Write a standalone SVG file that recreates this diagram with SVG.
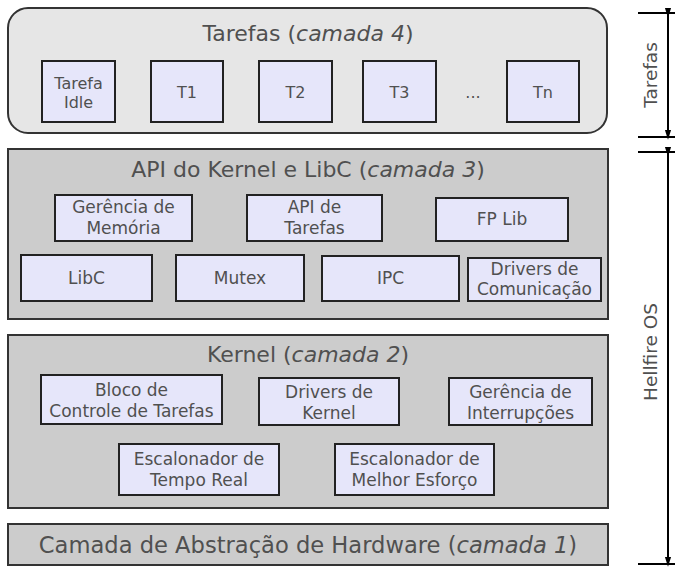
<svg xmlns="http://www.w3.org/2000/svg" width="681" height="575" viewBox="0 0 681 575">
<style>
text{font-family:"DejaVu Sans","Liberation Sans",sans-serif;fill:#505050;text-anchor:middle}
.layer{stroke:#333;stroke-width:2}
.l4{fill:#e6e6e6}
.lg{fill:#cccccc}
.box{fill:#e6e6fa;stroke:#222;stroke-width:2}
.title{font-size:22px}
.lbl{font-size:17px}
.tl{font-size:16px}
.side{font-size:18.5px}
.dim{stroke:#000;stroke-width:2;fill:none}
</style>
<defs>
<marker id="ah" markerWidth="10" markerHeight="16" refX="10" refY="5" orient="auto" markerUnits="userSpaceOnUse" viewBox="0 0 16 10">
<path d="M0,0 L16,5 L0,10 Z" fill="#000"/>
</marker>
</defs>
<g id="camada4">
<rect class="layer l4" x="8" y="8" width="599" height="125" rx="20"/>
<text class="title" x="308" y="41">Tarefas (<tspan font-style="italic">camada 4</tspan>)</text>
</g>
<g id="tarefa-idle"><rect class="box" x="42" y="61" width="73" height="61"/><text class="tl" x="78.5" y="89">Tarefa</text><text class="tl" x="78.5" y="108">Idle</text></g>
<g id="t1"><rect class="box" x="151" y="61" width="72" height="61"/><text class="tl" x="187" y="98">T1</text></g>
<g id="t2"><rect class="box" x="259" y="61" width="73" height="61"/><text class="tl" x="295.5" y="98">T2</text></g>
<g id="t3"><rect class="box" x="363" y="61" width="73" height="61"/><text class="tl" x="399.5" y="98">T3</text></g>
<text class="tl" x="473" y="98">...</text>
<g id="tn"><rect class="box" x="507" y="61" width="72" height="61"/><text class="tl" x="543" y="98">Tn</text></g>

<g id="camada3">
<rect class="layer lg" x="8" y="149" width="600" height="170"/>
<text class="title" x="308" y="177">API do Kernel e LibC (<tspan font-style="italic">camada 3</tspan>)</text>
</g>
<g id="gerencia-memoria"><rect class="box" x="55" y="195" width="137" height="46"/><text class="lbl" x="123.5" y="213">Gerência de</text><text class="lbl" x="123.5" y="234">Memória</text></g>
<g id="api-tarefas"><rect class="box" x="247" y="195" width="135" height="46"/><text class="lbl" x="314.5" y="213">API de</text><text class="lbl" x="314.5" y="234">Tarefas</text></g>
<g id="fp-lib"><rect class="box" x="436" y="198" width="132" height="43"/><text class="lbl" x="502" y="225">FP Lib</text></g>
<g id="libc"><rect class="box" x="21" y="255" width="131" height="46"/><text class="lbl" x="86.5" y="284">LibC</text></g>
<g id="mutex"><rect class="box" x="176" y="255" width="128" height="46"/><text class="lbl" x="240" y="284">Mutex</text></g>
<g id="ipc"><rect class="box" x="322" y="256" width="137" height="45"/><text class="lbl" x="390.5" y="284">IPC</text></g>
<g id="drivers-com"><rect class="box" x="468" y="258" width="133" height="43"/><text class="lbl" x="534.5" y="275">Drivers de</text><text class="lbl" x="534.5" y="295">Comunicação</text></g>

<g id="camada2">
<rect class="layer lg" x="8" y="335" width="600" height="173"/>
<text class="title" x="308" y="362">Kernel (<tspan font-style="italic">camada 2</tspan>)</text>
</g>
<g id="bloco-controle"><rect class="box" x="41" y="375" width="181" height="49"/><text class="lbl" x="131.5" y="396">Bloco de</text><text class="lbl" x="131.5" y="417">Controle de Tarefas</text></g>
<g id="drivers-kernel"><rect class="box" x="259" y="378" width="140" height="47"/><text class="lbl" x="329" y="398">Drivers de</text><text class="lbl" x="329" y="419">Kernel</text></g>
<g id="gerencia-interrupcoes"><rect class="box" x="449" y="378" width="143" height="47"/><text class="lbl" x="520.5" y="398">Gerência de</text><text class="lbl" x="520.5" y="419">Interrupções</text></g>
<g id="escalonador-tr"><rect class="box" x="119" y="444" width="160" height="51"/><text class="lbl" x="199" y="465">Escalonador de</text><text class="lbl" x="199" y="486">Tempo Real</text></g>
<g id="escalonador-me"><rect class="box" x="335" y="444" width="159" height="51"/><text class="lbl" x="414.5" y="465">Escalonador de</text><text class="lbl" x="414.5" y="486">Melhor Esforço</text></g>

<g id="camada1">
<rect class="layer lg" x="8" y="524" width="600" height="41"/>
<text class="title" x="308" y="553" style="font-size:22.6px">Camada de Abstração de Hardware (<tspan font-style="italic">camada 1</tspan>)</text>
</g>

<g id="connectors">
<line class="dim" x1="638" y1="13" x2="675" y2="13"/>
<line class="dim" x1="638" y1="137" x2="675" y2="137"/>
<line class="dim" x1="668" y1="14" x2="668" y2="136" marker-start="url(#ah)" marker-end="url(#ah)"/>
<line class="dim" x1="638" y1="152" x2="675" y2="152"/>
<line class="dim" x1="638" y1="564" x2="675" y2="564"/>
<line class="dim" x1="668" y1="153" x2="668" y2="563" marker-start="url(#ah)" marker-end="url(#ah)"/>
</g>
<g id="label-tarefas"><text class="side" transform="translate(657,75) rotate(-90)">Tarefas</text></g>
<g id="label-hellfire"><text class="side" transform="translate(657,352) rotate(-90)">Hellfire OS</text></g>
</svg>
